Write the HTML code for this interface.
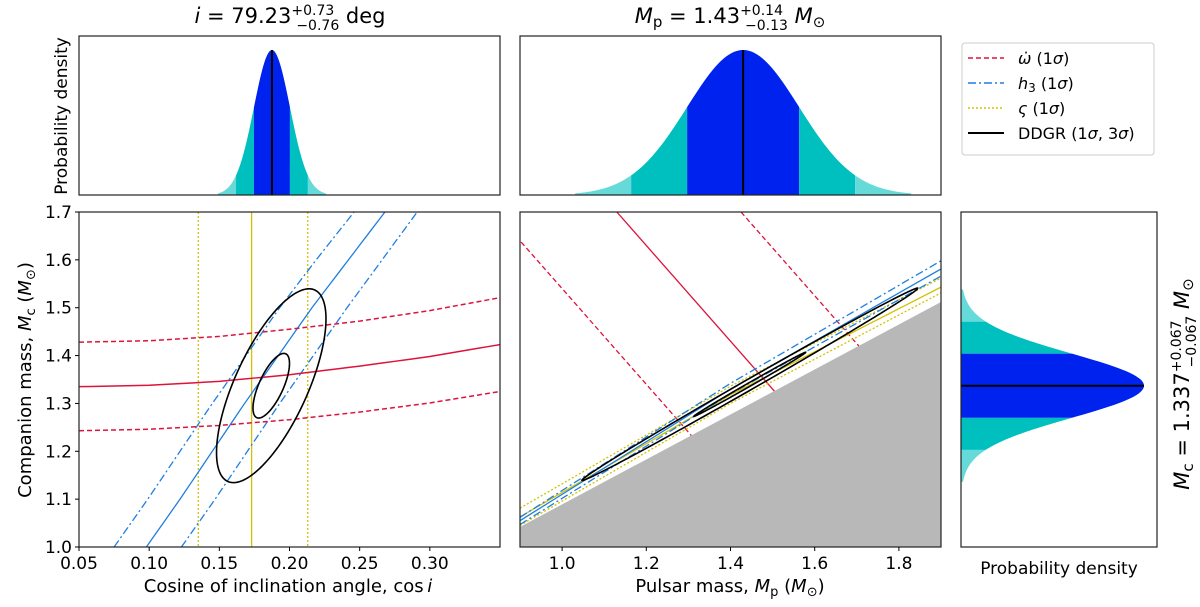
<!DOCTYPE html>
<html><head><meta charset="utf-8"><style>
html,body{margin:0;padding:0;background:#fff;}
svg{display:block;font-family:"DejaVu Sans","Liberation Sans",sans-serif;}
</style></head><body>
<svg id="fig" width="1200" height="607" viewBox="0 0 1200 607" xmlns="http://www.w3.org/2000/svg"></svg>
<script>
// ---- data ----
const cosiMean = 0.1875, cosiSigma = 0.0128;
const mpMean = 1.43, mpSigma = 0.133;
const mcMean = 1.337, mcSigma = 0.067;
const xTicksCos = [0.05,0.10,0.15,0.20,0.25,0.30];
const xTicksMp = [1.0,1.2,1.4,1.6,1.8];
const yTicksMc = [1.0,1.1,1.2,1.3,1.4,1.5,1.6,1.7];
const omdX = [0.05,0.10,0.15,0.20,0.25,0.30,0.35];
const omdMid = [1.335,1.338,1.346,1.360,1.378,1.398,1.423];
const omdHi = [1.428,1.431,1.440,1.455,1.472,1.494,1.521];
const omdLo = [1.243,1.246,1.254,1.266,1.282,1.301,1.325];
const h3Mc = [1.0,1.1,1.2,1.3,1.4,1.5,1.6,1.7];
const h3Mid = [0.098,0.122,0.145,0.168,0.192,0.216,0.242,0.268];
const h3Lo = [0.075,0.099,0.122,0.145,0.169,0.193,0.219,0.246];
const h3Hi = [0.123,0.147,0.170,0.193,0.217,0.241,0.266,0.291];
const vsMid = 0.173, vsLo = 0.135, vsHi = 0.213;
const ellLeft = {cx:0.187, cy:1.337, sx:0.013, sy:0.0675, rho:0.69};
const ellMid = {cx:1.446, cy:1.34, sx:0.133, sy:0.067, rho:0.998};
const ellLevels = [1,3];
const mtot = [2.54, 2.83, 3.125];
const mpS = [0.9,1.4,1.9];
const h3MMid = [1.055,1.330,1.581];
const h3MHi = [1.062,1.342,1.598];
const h3MLo = [1.047,1.320,1.566];
const vsMMid = [1.063,1.318,1.543];
const vsMHi = [1.081,1.336,1.562];
const vsMLo = [1.045,1.300,1.531];
const exclMp = [0.9,1.9], exclMc = [1.042,1.512];

// ---- layout ----
const NS = "http://www.w3.org/2000/svg";
const svg = document.getElementById('fig');
function el(tag, attrs, parent){const e=document.createElementNS(NS,tag);for(const k in attrs)e.setAttribute(k,attrs[k]);(parent||svg).appendChild(e);return e;}
const L = {x0:79,x1:500}, M = {x0:520,x1:941}, R = {x0:961,x1:1157};
const topP = {y0:36,y1:195}, bot = {y0:212,y1:547};
const xCos = v => L.x0 + (v-0.05)/(0.35-0.05)*(L.x1-L.x0);
const xMp = v => M.x0 + (v-0.9)/(1.0)*(M.x1-M.x0);
const yMc = v => bot.y1 - (v-1.0)/0.7*(bot.y1-bot.y0);
const RED="#dc143c", BLUE="#1f7fe0", YEL="#d4c100";
function pline(pts,stroke,dash,w,name,parent){
  const p=el('polyline',{points:pts.map(p=>p[0].toFixed(2)+','+p[1].toFixed(2)).join(' '),fill:'none',stroke:stroke,'stroke-width':w||1.3,'stroke-dasharray':dash||'none'},parent);
  
  
  return p;
}
function interp(xs,ys,n){const out=[];for(let i=0;i<xs.length-1;i++){for(let j=0;j<n;j++){const t=j/n;out.push([xs[i]+(xs[i+1]-xs[i])*t, ys[i]+(ys[i+1]-ys[i])*t]);}}out.push([xs[xs.length-1],ys[ys.length-1]]);return out;}
const gauss=z=>Math.exp(-0.5*z*z);
const C1="#0022ee", C2="#00bfbf", C3="#66d9d9";
const defs=el('defs',{});
function clip(id,x,y,w,h){const c=el('clipPath',{id:id},defs);el('rect',{x:x,y:y,width:w,height:h},c);}
clip('cL',L.x0,bot.y0,L.x1-L.x0,bot.y1-bot.y0);
clip('cM',M.x0,bot.y0,M.x1-M.x0,bot.y1-bot.y0);

function hHist(xf,mean,sig,peakY,baseY,name){
  const g=el('g',{});
  
  
  const bands=[[-3,-2,C3],[-2,-1,C2],[-1,1,C1],[1,2,C2],[2,3,C3]];
  bands.forEach(b=>{
    const pts=[];
    for(let i=0;i<=40;i++){const z=b[0]+(b[1]-b[0])*i/40;pts.push([xf(mean+z*sig),baseY-(baseY-peakY)*gauss(z)]);}
    pts.push([xf(mean+b[1]*sig),baseY]);pts.push([xf(mean+b[0]*sig),baseY]);
    const p=el('polygon',{points:pts.map(p=>p[0].toFixed(2)+','+p[1].toFixed(2)).join(' '),fill:b[2]},g);
    
    
  });
  const ml=el('line',{x1:xf(mean),x2:xf(mean),y1:peakY,y2:baseY,stroke:'#000','stroke-width':2},g);
  
  
}
hHist(xCos,cosiMean,cosiSigma,50,topP.y1,'cosi-histogram');
hHist(xMp,mpMean,mpSigma,50,topP.y1,'mp-histogram');
(function(){
  const g=el('g',{});
  
  
  const peakX=1144, baseX=R.x0;
  const bands=[[-3,-2,C3],[-2,-1,C2],[-1,1,C1],[1,2,C2],[2,3,C3]];
  bands.forEach(b=>{
    const pts=[];
    for(let i=0;i<=40;i++){const z=b[0]+(b[1]-b[0])*i/40;pts.push([baseX+(peakX-baseX)*gauss(z),yMc(mcMean+z*mcSigma)]);}
    pts.push([baseX,yMc(mcMean+b[1]*mcSigma)]);pts.push([baseX,yMc(mcMean+b[0]*mcSigma)]);
    const p=el('polygon',{points:pts.map(p=>p[0].toFixed(2)+','+p[1].toFixed(2)).join(' '),fill:b[2]},g);
    
    
  });
  const ml=el('line',{x1:baseX,x2:peakX,y1:yMc(mcMean),y2:yMc(mcMean),stroke:'#000','stroke-width':2},g);
  
  
})();

const gl=el('g',{'clip-path':'url(#cL)'});


[[vsLo,'2,2'],[vsMid,null],[vsHi,'2,2']].forEach(v=>pline([[xCos(v[0]),bot.y0],[xCos(v[0]),bot.y1]],YEL,v[1],1.3,'varsigma-line',gl));
[[h3Lo,'8,3,2,3'],[h3Mid,null],[h3Hi,'8,3,2,3']].forEach(a=>pline(interp(h3Mc,a[0],6).map(p=>[xCos(p[1]),yMc(p[0])]),BLUE,a[1],1.3,'h3-curve',gl));
[[omdLo,'5,3'],[omdMid,null],[omdHi,'5,3']].forEach(a=>pline(interp(omdX,a[0],6).map(p=>[xCos(p[0]),yMc(p[1])]),RED,a[1],1.5,'omdot-curve',gl));
function ellipse(e,k,xf,parent){
  const pts=[];const phi=Math.acos(e.rho);
  for(let i=0;i<=240;i++){const t=i/240*2*Math.PI;pts.push([xf(e.cx+k*e.sx*Math.cos(t)),yMc(e.cy+k*e.sy*Math.cos(t-phi))]);}
  return pline(pts,'#000',null,1.6,'ddgr-contour-'+k+'sigma',parent);
}
ellLevels.forEach(k=>ellipse(ellLeft,k,xCos,gl));

const gm=el('g',{'clip-path':'url(#cM)'});


const ex=el('polygon',{points:[[xMp(exclMp[0]),yMc(exclMc[0])],[xMp(exclMp[1]),yMc(exclMc[1])],[xMp(exclMp[1]),bot.y1],[xMp(exclMp[0]),bot.y1]].map(p=>p.join(',')).join(' '),fill:'#b8b8b8'},gm);


const slope=(exclMc[1]-exclMc[0])/(exclMp[1]-exclMp[0]);
mtot.forEach((m,i)=>{
  const mpEnd=(m-exclMc[0]+slope*exclMp[0])/(1+slope);
  const mpStart=m-1.7;
  pline([[xMp(mpStart),yMc(1.7)],[xMp(mpEnd),yMc(m-mpEnd)]],RED,i===1?null:'5,3',1.3,'omdot-line',gm);
});
[[vsMLo,'2,2'],[vsMMid,null],[vsMHi,'2,2']].forEach(a=>pline(interp(mpS,a[0],6).map(p=>[xMp(p[0]),yMc(p[1])]),YEL,a[1],1.3,'varsigma-curve',gm));
[[h3MLo,'8,3,2,3'],[h3MMid,null],[h3MHi,'8,3,2,3']].forEach(a=>pline(interp(mpS,a[0],6).map(p=>[xMp(p[0]),yMc(p[1])]),BLUE,a[1],1.3,'h3-curve',gm));
ellLevels.forEach(k=>ellipse(ellMid,k,xMp,gm));

[[L.x0,topP.y0,L.x1,topP.y1,'cosi-hist-frame'],[M.x0,topP.y0,M.x1,topP.y1,'mp-hist-frame'],[L.x0,bot.y0,L.x1,bot.y1,'left-frame'],[M.x0,bot.y0,M.x1,bot.y1,'middle-frame'],[R.x0,bot.y0,R.x1,bot.y1,'right-frame']].forEach(f=>{
  const r=el('rect',{x:f[0],y:f[1],width:f[2]-f[0],height:f[3]-f[1],fill:'none',stroke:'#222','stroke-width':1.2});
  
  
});
function txt(x,y,s,attrs,name){const t=el('text',Object.assign({x:x,y:y,'font-size':17,fill:'#000'},attrs||{}));t.innerHTML=s;return t;}
xTicksCos.forEach(v=>{const x=xCos(v);el('line',{x1:x,x2:x,y1:bot.y1,y2:bot.y1+4,stroke:'#000'});txt(x,bot.y1+22,v.toFixed(2),{'text-anchor':'middle'},'x-tick-label');});
xTicksMp.forEach(v=>{const x=xMp(v);el('line',{x1:x,x2:x,y1:bot.y1,y2:bot.y1+4,stroke:'#000'});txt(x,bot.y1+22,v.toFixed(1),{'text-anchor':'middle'},'x-tick-label');});
yTicksMc.forEach(v=>{const y=yMc(v);el('line',{x1:L.x0-4,x2:L.x0,y1:y,y2:y,stroke:'#000'});txt(L.x0-7,y+6,v.toFixed(1),{'text-anchor':'end'},'y-tick-label');});
txt(288,592,'Cosine of inclination angle, cos&#8201;<tspan font-style="italic">i</tspan>',{'text-anchor':'middle','font-size':18},'x-axis-title-cosi');
txt(730,592,'Pulsar mass, <tspan font-style="italic">M</tspan><tspan font-size="13" dy="4">p</tspan><tspan dy="-4"> (</tspan><tspan font-style="italic">M</tspan><tspan font-size="13" dy="4">⊙</tspan><tspan dy="-4">)</tspan>',{'text-anchor':'middle','font-size':18},'x-axis-title-mp');
txt(1059,574,'Probability density',{'text-anchor':'middle','font-size':17},'right-hist-xlabel');
txt(0,0,'Probability density',{'text-anchor':'middle','font-size':17,transform:'translate(67,116) rotate(-90)'},'top-hist-ylabel');
txt(0,0,'Companion mass, <tspan font-style="italic">M</tspan><tspan font-size="13" dy="4">c</tspan><tspan dy="-4"> (</tspan><tspan font-style="italic">M</tspan><tspan font-size="13" dy="4">⊙</tspan><tspan dy="-4">)</tspan>',{'text-anchor':'middle','font-size':18,transform:'translate(31,380) rotate(-90)'},'y-axis-title');
txt(290,23,'<tspan font-style="italic">i</tspan> = 79.23<tspan font-size="14" dy="-8">+0.73</tspan><tspan font-size="14" dx="-38" dy="15">−0.76</tspan><tspan dy="-7"> deg</tspan>',{'text-anchor':'middle','font-size':21},'title-inclination');
txt(730,23,'<tspan font-style="italic">M</tspan><tspan font-size="15" dy="4">p</tspan><tspan dy="-4"> = 1.43</tspan><tspan font-size="14" dy="-8">+0.14</tspan><tspan font-size="14" dx="-38" dy="15">−0.13</tspan><tspan dy="-7"> </tspan><tspan font-style="italic">M</tspan><tspan font-size="15" dy="4">⊙</tspan>',{'text-anchor':'middle','font-size':21},'title-pulsar-mass');
txt(0,0,'<tspan font-style="italic">M</tspan><tspan font-size="15" dy="4">c</tspan><tspan dy="-4"> = 1.337</tspan><tspan font-size="14" dy="-8">+0.067</tspan><tspan font-size="14" dx="-47" dy="15">−0.067</tspan><tspan dy="-7"> </tspan><tspan font-style="italic">M</tspan><tspan font-size="15" dy="4">⊙</tspan>',{'text-anchor':'middle','font-size':21,transform:'translate(1189,384) rotate(-90)'},'mc-result-label');
const lg=el('g',{});


el('rect',{x:962,y:43,width:192,height:112,rx:3,fill:'#fff',stroke:'#ccc'},lg);
const legItems=[[RED,'5,3','<tspan font-style="italic">ω̇</tspan> (1<tspan font-style="italic">σ</tspan>)'],[BLUE,'8,3,2,3','<tspan font-style="italic">h</tspan><tspan font-size="12" dy="3">3</tspan><tspan dy="-3"> (1</tspan><tspan font-style="italic">σ</tspan>)'],[YEL,'2,2','<tspan font-style="italic">ς</tspan> (1<tspan font-style="italic">σ</tspan>)'],['#000',null,'DDGR (1<tspan font-style="italic">σ</tspan>, 3<tspan font-style="italic">σ</tspan>)']];
legItems.forEach((it,i)=>{
  const y=58+i*25;
  const ln=el('line',{x1:968,x2:1004,y1:y,y2:y,stroke:it[0],'stroke-width':it[0]==='#000'?2:1.5,'stroke-dasharray':it[1]||'none'},lg);
  
  
  const t=txt(1018,y+6,it[2],{'font-size':16},'legend-entry');
  lg.appendChild(t);
});
</script>
</body></html>
